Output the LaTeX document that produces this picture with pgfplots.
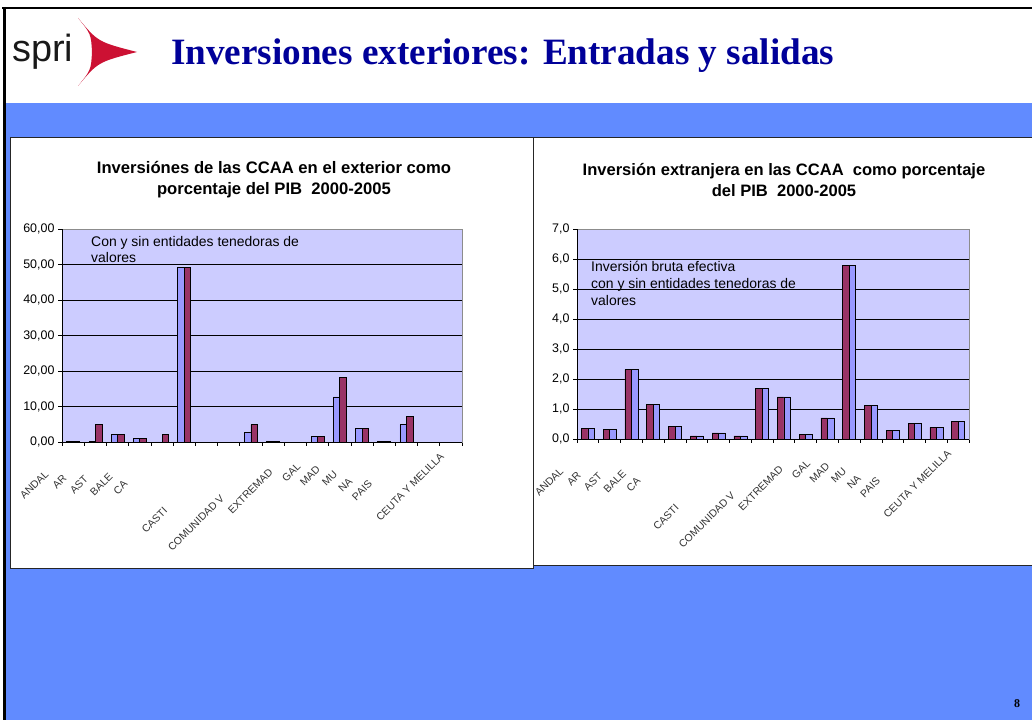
\documentclass[border=0pt]{standalone}
\usepackage{fontspec}
\setmainfont{Liberation Sans}
\newfontfamily\timesfont{Liberation Serif}
\usepackage{pgfplots}
\pgfplotsset{compat=1.18}

\definecolor{band}{RGB}{97,139,255}
\definecolor{plotbg}{RGB}{204,204,255}
\definecolor{serA}{RGB}{153,153,255}
\definecolor{serB}{RGB}{153,51,102}
\definecolor{navyT}{RGB}{0,0,153}
\definecolor{spriRed}{RGB}{204,17,51}

\newcommand\labfont{\fontsize{10.5}{10.5}\selectfont}
\tikzset{clabel/.style={rotate=45, anchor=east, font=\labfont, text=black!80, inner sep=1bp}}
% category label: index, visible text, hidden length (visible part shifted as in the reference)
\newcommand\clab[3]{\node[clabel] at ([xshift=-8bp,yshift=-12bp,shift={(225:#3)}]axis cs:#1,0) {#2};}
\newcommand\catlabels{%
  \clab{0}{ANDAL}{\La}\clab{1}{AR}{\Lb}\clab{2}{AST}{\Lc}\clab{3}{BALE}{\Ld}\clab{4}{CA}{\Le}%
  \clab{7}{CASTI}{\Lf}\clab{9}{COMUNIDAD V}{\Lg}\clab{10}{EXTREMAD}{\Lh}\clab{11}{GAL}{\Li}%
  \clab{12}{MAD}{\Lj}\clab{13}{MU}{\Lk}\clab{14}{NA}{\Ll}\clab{15}{PAIS}{\Lm}\clab{17}{CEUTA Y MELILLA}{0pt}}

\pgfplotsset{
 slideaxis/.style={
  scale only axis, clip=false,
  axis background/.style={fill=plotbg},
  xmin=-0.5, xmax=17.5, ymin=0,
  ybar=0pt, bar width=6.5bp,
  xtick={0,...,17}, major x tick style={draw=none}, xticklabels={},
  minor xtick={-0.5,0.5,...,17.5},
  tick align=outside, tick pos=left,
  major tick length=4bp, minor tick length=4bp,
  ymajorgrids, grid style={black, line width=0.7bp},
  axis line style={black!45, line width=0.8bp},
  tick style={black, line width=0.7bp},
  yticklabel style={font=\fontsize{12.5}{12.5}\selectfont, text=black},
  /pgf/number format/use comma,
  /pgf/number format/fixed,
  /pgf/number format/fixed zerofill,
  /pgf/number format/assume math mode=true,
 },
 barA/.style={fill=serA, draw=black, line width=0.6bp},
 barB/.style={fill=serB, draw=black, line width=0.6bp},
}

% left chart: blue = serie 1, maroon = serie 2
\pgfplotstableread{
x a b
0 0.25 0.25
1 0.2 4.9
2 2.15 2.15
3 1.0 1.0
4 0.0 2.2
5 49.2 49.2
8 2.8 4.9
9 0.2 0.2
11 1.6 1.6
12 12.7 18.1
13 3.8 3.8
14 0.2 0.2
15 4.9 7.2
}\leftdata

% right chart: maroon first, blue second
\pgfplotstableread{
x a b
0 0.34 0.34
1 0.31 0.31
2 2.31 2.31
3 1.15 1.15
4 0.43 0.43
5 0.10 0.10
6 0.20 0.20
7 0.10 0.10
8 1.68 1.68
9 1.40 1.40
10 0.14 0.14
11 0.70 0.70
12 5.78 5.78
13 1.11 1.11
14 0.28 0.28
15 0.52 0.52
16 0.39 0.39
17 0.59 0.59
}\rightdata

\begin{document}
\newlength\La\settowidth\La{\labfont UCIA}%
\newlength\Lb\settowidth\Lb{\labfont AGON}%
\newlength\Lc\settowidth\Lc{\labfont URIAS}%
\newlength\Ld\settowidth\Ld{\labfont ARES}%
\newlength\Le\settowidth\Le{\labfont NARIAS}%
\newlength\Lf\settowidth\Lf{\labfont LLA-LA MANCHA}\addtolength\Lf{-6bp}%
\newlength\Lg\settowidth\Lg{\labfont ALENCIANA}%
\newlength\Lh\settowidth\Lh{\labfont URA}%
\newlength\Li\settowidth\Li{\labfont ICIA}\addtolength\Li{-6bp}%
\newlength\Lj\settowidth\Lj{\labfont RID}%
\newlength\Lk\settowidth\Lk{\labfont RCIA}%
\newlength\Ll\settowidth\Ll{\labfont VARRA}%
\newlength\Lm\settowidth\Lm{\labfont\ VASCO}%
\begin{tikzpicture}
\fill[white] (0,0) rectangle (1032bp,720bp);
\useasboundingbox (0,0) rectangle (1032bp,720bp);
\begin{scope}[x=1bp,y=-1bp,shift={(0,720bp)}]
  % blue band
  \fill[band] (5,103) rectangle (1032,720);
  % frame
  \draw[black, line width=2bp] (2,8) -- (1032,8);
  \draw[black, line width=3bp] (4.5,7) -- (4.5,720);
  % panels
  \filldraw[fill=white, draw=black!85, line width=1bp] (10,138) rectangle (533,569);
  \filldraw[fill=white, draw=black!85, line width=1bp] (533,138) rectangle (1033,566);
  % logo
  \node[anchor=base west, inner sep=0, font=\fontsize{38}{38}\selectfont, text=black!90] at (12,62) {spri};
  \fill[spriRed] (78,18) .. controls (98,42) .. (137,52) .. controls (98,62) .. (78,86)
     .. controls (91,70) .. (92,52) .. controls (91,34) .. (78,18) -- cycle;
  % title
  \node[anchor=west, inner sep=0, text=navyT, font=\timesfont\bfseries\fontsize{37.3}{37}\selectfont] at (171,56) {Inversiones exteriores: Entradas y salidas};
  % chart titles
  \node[align=center, font=\bfseries\fontsize{16.7}{21}\selectfont] at (274,180) {Inversiónes de las CCAA en el exterior como\\porcentaje del PIB\ \ 2000-2005};
  \node[align=center, font=\bfseries\fontsize{16.6}{21}\selectfont] at (784,180) {Inversión extranjera en las CCAA\ \ como porcentaje\\del PIB\ \ 2000-2005};
  % page number
  \node[font=\timesfont\bfseries\fontsize{12}{12}\selectfont] at (1017,704) {8};
\end{scope}

% left axis
\begin{axis}[slideaxis, at={(62bp,278bp)}, anchor=south west,
  width=400bp, height=213bp, ymax=60, ytick={0,10,...,60},
  yticklabel style={/pgf/number format/precision=2}]
  \addplot[barA] table[x=x,y=a]{\leftdata};
  \addplot[barB] table[x=x,y=b]{\leftdata};
  \draw[black, line width=0.8bp] (rel axis cs:0,1) -- (rel axis cs:0,0) -- (rel axis cs:1,0);
  \catlabels
\end{axis}

% right axis
\begin{axis}[slideaxis, at={(577bp,281bp)}, anchor=south west,
  width=392bp, height=210bp, ymax=7, ytick={0,1,...,7},
  yticklabel style={/pgf/number format/precision=1}]
  \addplot[barB] table[x=x,y=a]{\rightdata};
  \addplot[barA] table[x=x,y=b]{\rightdata};
  \draw[black, line width=0.8bp] (rel axis cs:0,1) -- (rel axis cs:0,0) -- (rel axis cs:1,0);
  \catlabels
\end{axis}

\begin{scope}[x=1bp,y=-1bp,shift={(0,720bp)}]
  \node[anchor=north west, align=left, inner sep=0, font=\fontsize{14}{16.5}\selectfont] at (91,236) {Con y sin entidades tenedoras de\\valores};
  \node[anchor=north west, align=left, inner sep=0, font=\fontsize{14}{17}\selectfont] at (591,261) {Inversión bruta efectiva\\con y sin entidades tenedoras de\\valores};
\end{scope}
\end{tikzpicture}
\end{document}
